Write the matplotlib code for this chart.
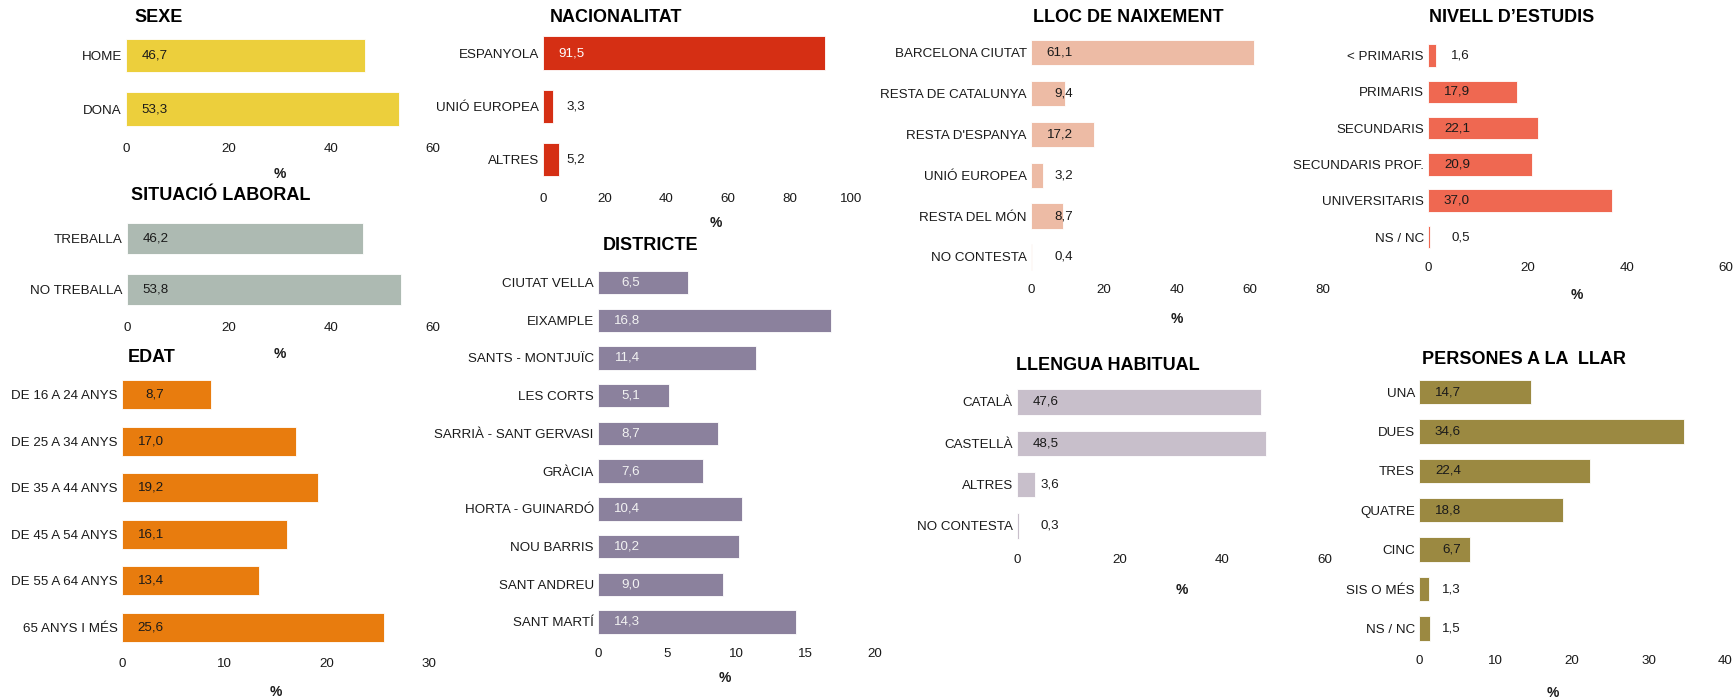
import matplotlib
matplotlib.use("Agg")
import matplotlib.pyplot as plt

plt.rcParams['font.family'] = ['Liberation Sans', 'DejaVu Sans']

# data
sexe_cats = ["HOME", "DONA"]
sexe_vals = [46.7, 53.3]
laboral_cats = ["TREBALLA", "NO TREBALLA"]
laboral_vals = [46.2, 53.8]
edat_cats = ["DE 16 A 24 ANYS", "DE 25 A 34 ANYS", "DE 35 A 44 ANYS",
             "DE 45 A 54 ANYS", "DE 55 A 64 ANYS", "65 ANYS I MÉS"]
edat_vals = [8.7, 17.0, 19.2, 16.1, 13.4, 25.6]
nac_cats = ["ESPANYOLA", "UNIÓ EUROPEA", "ALTRES"]
nac_vals = [91.5, 3.3, 5.2]
dist_cats = ["CIUTAT VELLA", "EIXAMPLE", "SANTS - MONTJUÏC", "LES CORTS",
             "SARRIÀ - SANT GERVASI", "GRÀCIA", "HORTA - GUINARDÓ",
             "NOU BARRIS", "SANT ANDREU", "SANT MARTÍ"]
dist_vals = [6.5, 16.8, 11.4, 5.1, 8.7, 7.6, 10.4, 10.2, 9.0, 14.3]
lloc_cats = ["BARCELONA CIUTAT", "RESTA DE CATALUNYA", "RESTA D'ESPANYA",
             "UNIÓ EUROPEA", "RESTA DEL MÓN", "NO CONTESTA"]
lloc_vals = [61.1, 9.4, 17.2, 3.2, 8.7, 0.4]
llengua_cats = ["CATALÀ", "CASTELLÀ", "ALTRES", "NO CONTESTA"]
llengua_vals = [47.6, 48.5, 3.6, 0.3]
estudis_cats = ["< PRIMARIS", "PRIMARIS", "SECUNDARIS", "SECUNDARIS PROF.",
                "UNIVERSITARIS", "NS / NC"]
estudis_vals = [1.6, 17.9, 22.1, 20.9, 37.0, 0.5]
llar_cats = ["UNA", "DUES", "TRES", "QUATRE", "CINC", "SIS O MÉS", "NS / NC"]
llar_vals = [14.7, 34.6, 22.4, 18.8, 6.7, 1.3, 1.5]

W, H = 1735, 700
DARK = "#1a1a1a"
FS = 9.6

# title, cats, vals, xmax, xstep, color, label colours, layout in px:
# (axis left, axis right, first bar centre, last bar centre, title xy, xlabel xy)
panels = [
    ("SEXE", sexe_cats, sexe_vals, 60, 20, "#ECCF3C", None,
     (126, 433, 55.5, 109, (134, 17), (280, 174))),
    ("SITUACIÓ LABORAL", laboral_cats, laboral_vals, 60, 20, "#ADBAB2", None,
     (127, 433, 238.5, 289.5, (131, 196), (280, 354))),
    ("EDAT", edat_cats, edat_vals, 30, 10, "#E87C0E", None,
     (122, 429, 394.5, 627.5, (128, 357), (276, 692))),
    ("NACIONALITAT", nac_cats, nac_vals, 100, 20, "#D52F14", ["white", DARK, DARK],
     (543, 851, 53, 159.5, (550, 17), (716, 223))),
    ("DISTRICTE", dist_cats, dist_vals, 20, 5, "#8B819D", ["#f2f2f2"] * 10,
     (598, 875, 282.5, 622, (603, 246), (725, 678))),
    ("LLOC DE NAIXEMENT", lloc_cats, lloc_vals, 80, 20, "#EDBBA5", None,
     (1031, 1323, 52.5, 257, (1033, 17), (1177, 319))),
    ("LLENGUA HABITUAL", llengua_cats, llengua_vals, 60, 20, "#C8BFCB", None,
     (1017, 1325, 402, 526, (1016, 365), (1182, 590))),
    ("NIVELL D’ESTUDIS", estudis_cats, estudis_vals, 60, 20, "#EF6851", None,
     (1428, 1726, 55.5, 237, (1429, 17), (1577, 295))),
    ("PERSONES A LA  LLAR", llar_cats, llar_vals, 40, 10, "#9B8941", None,
     (1419, 1725, 392, 628.5, (1422, 359), (1553, 693))),
]

fig = plt.figure(figsize=(W / 100, H / 100), dpi=100)

for title, cats, vals, xmax, xstep, color, lcols, geo in panels:
    left, right, c0, c1, tpos, lpos = geo
    n = len(cats)
    step = (c1 - c0) / (n - 1)
    top = c0 - step / 2
    bottom = c1 + step / 2
    ax = fig.add_axes([left / W, 1 - bottom / H, (right - left) / W, (bottom - top) / H])
    y = list(range(n))
    ax.barh(y, vals, height=0.62, color=color, edgecolor="white", linewidth=0.6)
    ax.set_ylim(n - 0.5, -0.5)
    ax.set_xlim(0, xmax)
    ax.set_xticks(list(range(0, xmax + 1, xstep)))
    ax.set_yticks(y)
    ax.set_yticklabels(cats)
    ax.tick_params(axis="both", length=0, labelsize=FS, colors=DARK)
    ax.tick_params(axis="y", pad=3)
    ax.tick_params(axis="x", pad=5)
    for s in ax.spines.values():
        s.set_visible(False)
    for i, v in enumerate(vals):
        txt = f"{v:.1f}".replace(".", ",")
        col = lcols[i] if lcols else DARK
        ax.annotate(txt, xy=(0, i), xytext=(30.2, 0), textcoords="offset points",
                    ha="right", va="center", fontsize=FS, color=col)
    fig.text(tpos[0] / W, 1 - tpos[1] / H, title, ha="left", va="center",
             fontsize=13, fontweight="bold", color="black")
    ax.set_xlabel("%", fontsize=10, fontweight="bold", color=DARK)
    ax.xaxis.set_label_coords((lpos[0] - left) / (right - left),
                              (bottom - lpos[1]) / (bottom - top), transform=ax.transAxes)
    ax.xaxis.label.set_va("center")

fig.savefig("out.png", dpi=100)
